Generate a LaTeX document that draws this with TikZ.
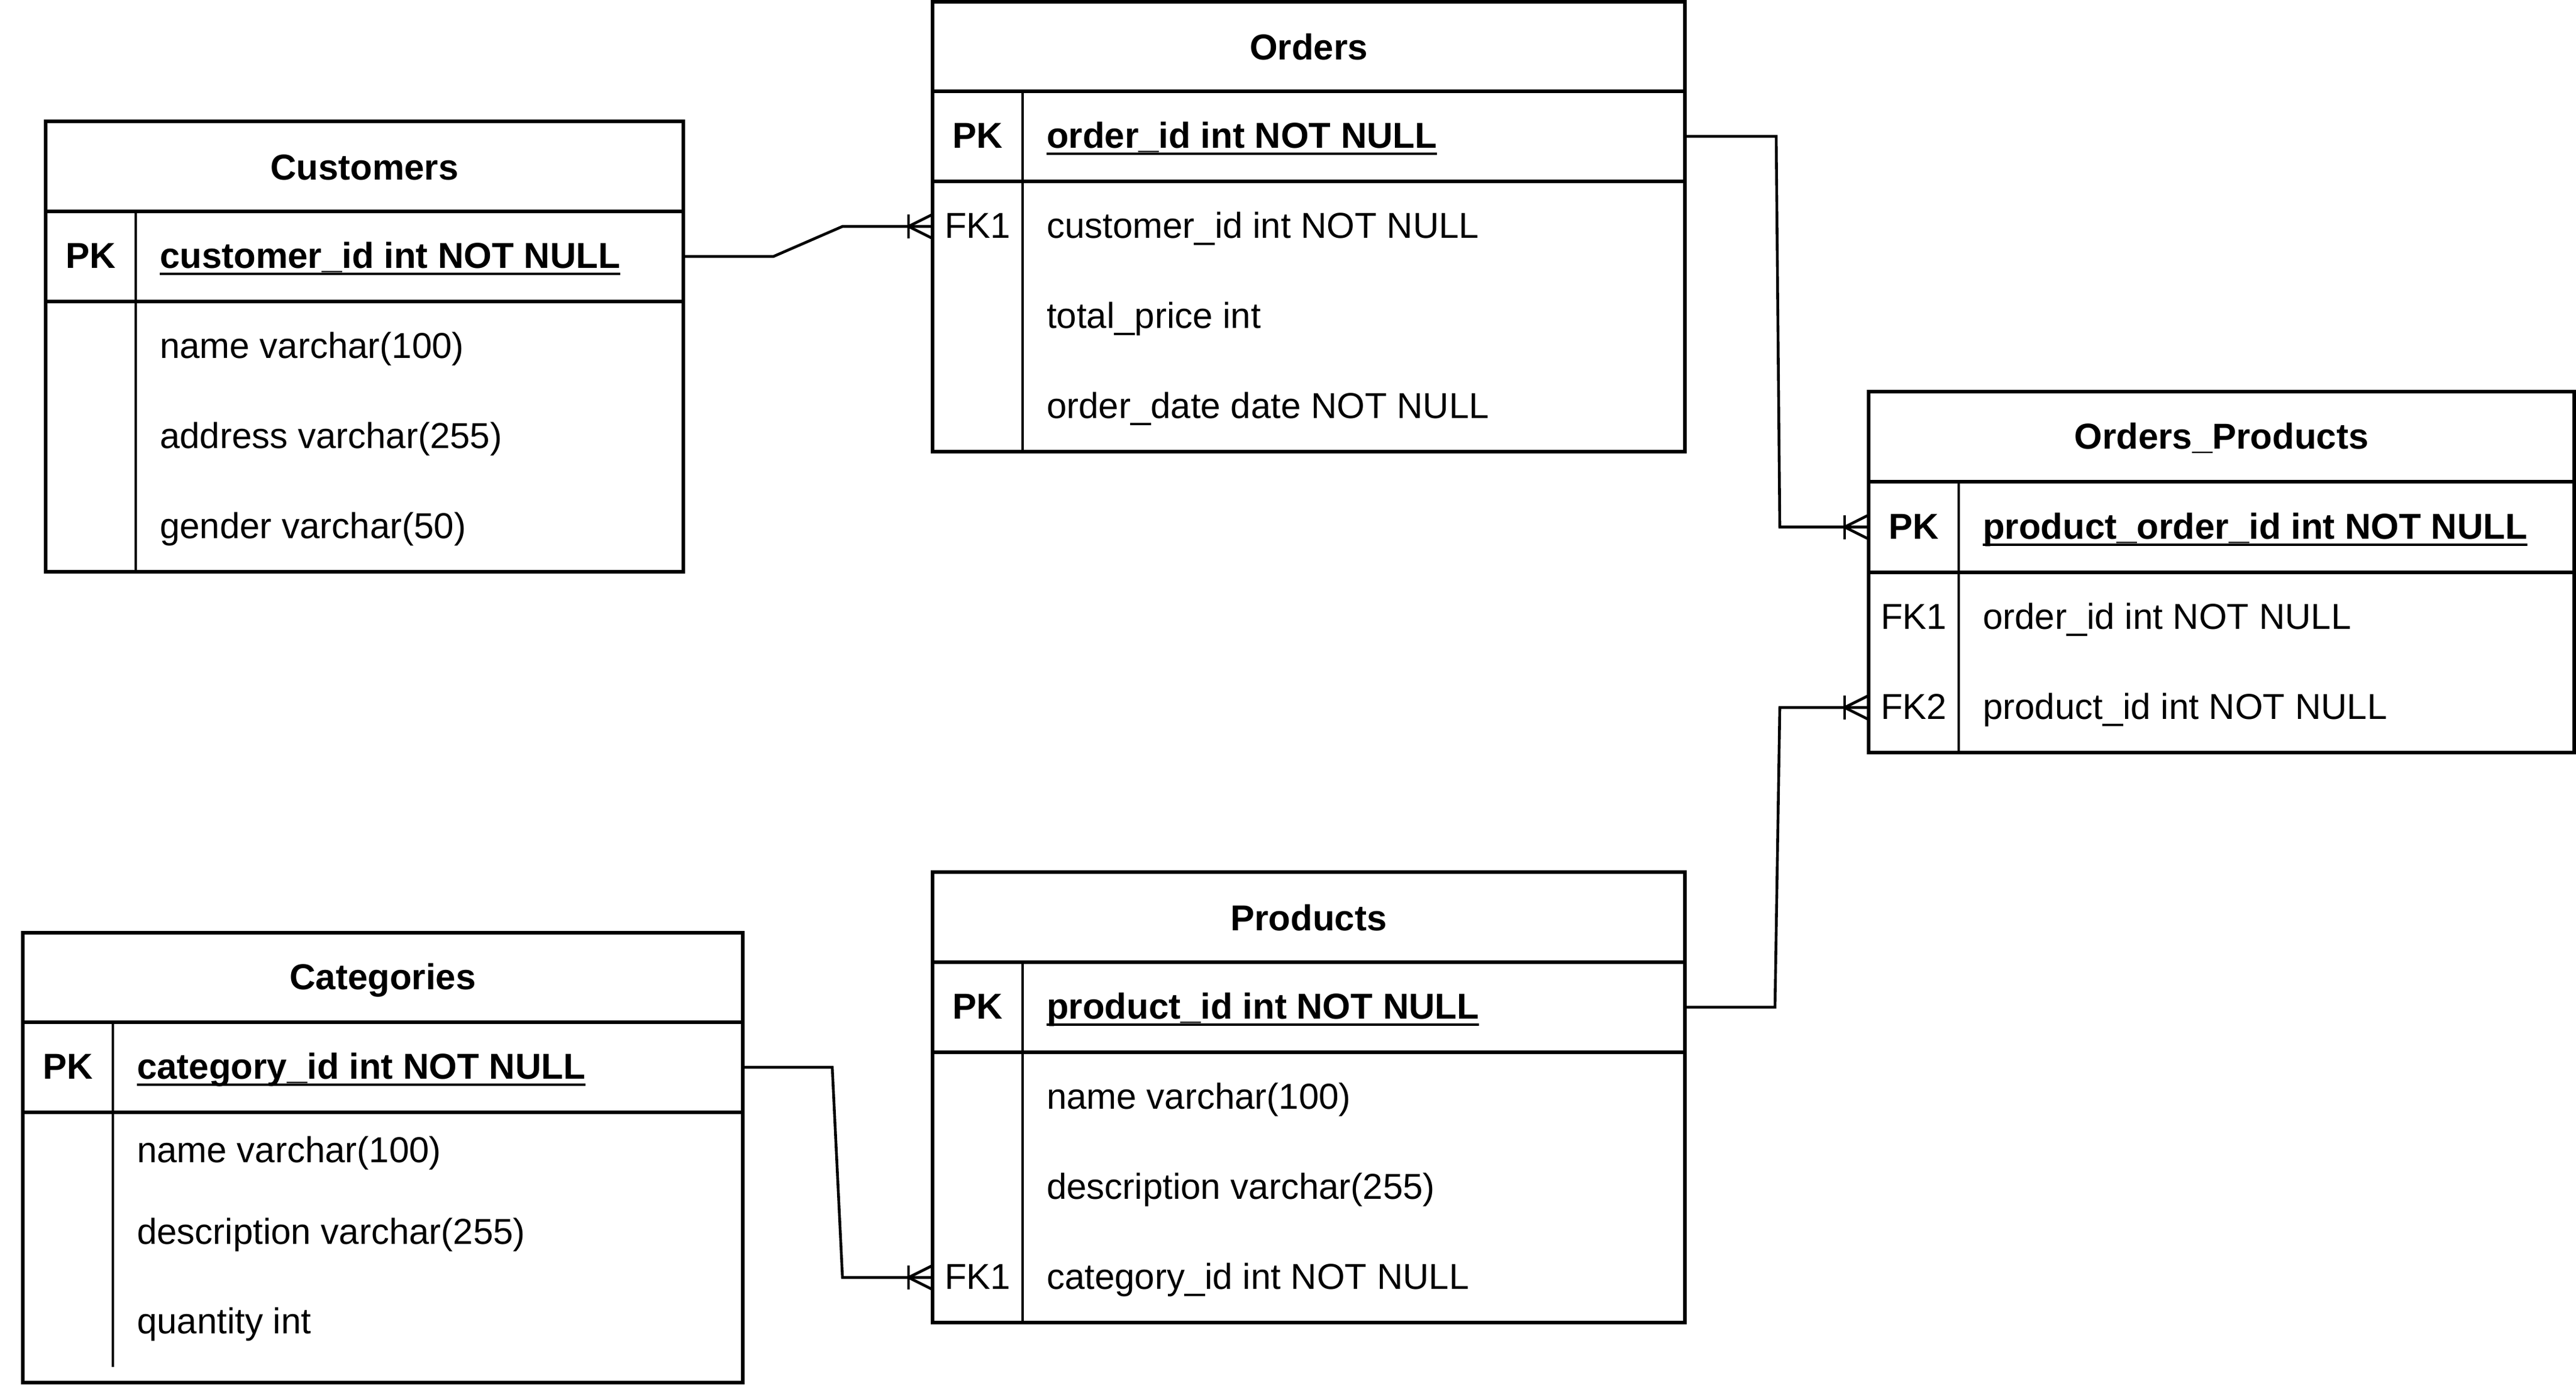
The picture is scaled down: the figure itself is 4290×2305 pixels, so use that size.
\documentclass[tikz,border=0pt]{standalone}
\usepackage{fontspec}
\setmainfont{Liberation Sans}
\usetikzlibrary{fit}
\newsavebox\pkulbox
\newcommand{\pkul}[1]{\sbox\pkulbox{#1}\rlap{\rule[-3pt]{\wd\pkulbox}{1.1pt}}\usebox\pkulbox}
\newcommand{\crowfoot}[1]{%
  \draw[conn] ([xshift=-10pt,yshift=5pt]#1) -- ([xshift=-10pt,yshift=-5pt]#1);
  \draw[conn] ([yshift=5pt]#1) -- ([xshift=-10pt]#1) -- ([yshift=-5pt]#1);}
\begin{document}
\begin{tikzpicture}[x=0.25pt,y=-0.25pt,
  rowbox/.style={inner sep=0pt, outer sep=0pt},
  tbl/.style={draw, line width=1.35pt, inner sep=0pt, outer sep=0pt},
  erRule/.style={line width=1.35pt},
  erDiv/.style={line width=1.1pt},
  conn/.style={line width=1.15pt, line join=miter},
  txt/.style={inner sep=0pt, outer sep=0pt, font=\fontsize{15pt}{18pt}\selectfont},
  erTitle/.style={txt, font=\fontsize{15pt}{18pt}\selectfont\bfseries, anchor=base},
  keytxt/.style={txt, anchor=base, yshift=0.75pt},
  pkkey/.style={keytxt, font=\fontsize{15pt}{18pt}\selectfont\bfseries},
  field/.style={txt, anchor=base west, yshift=0.75pt},
  pkfield/.style={field, font=\fontsize{15pt}{18pt}\selectfont\bfseries},
]
\useasboundingbox (0,0) rectangle (4290,2305);

% ---------- Customers ----------
\node[tbl, fit={(76,202) (1138,952)}] (cust) {};
\node[rowbox, fit={(76,202) (1138,352)}] (custH) {};
\node[rowbox, fit={(76,352) (1138,502)}] (custPK) {};
\draw[erRule] (custPK.north west) -- (custPK.north east);
\draw[erRule] (custPK.south west) -- (custPK.south east);
\draw[erDiv] (226,352) -- (226,952);
\node[erTitle] at ([yshift=-5.5pt]custH.center) {Customers};
\node[pkkey] at (151,449) {PK};
\node[pkfield] at (266,449) {\pkul{customer\_id int NOT NULL}};
\node[field] at (266,599) {name varchar(100)};
\node[field] at (266,749) {address varchar(255)};
\node[field] at (266,899) {gender varchar(50)};

% ---------- Orders ----------
\node[tbl, fit={(1553,3) (2806,752)}] (ord) {};
\node[rowbox, fit={(1553,3) (2806,152)}] (ordH) {};
\node[rowbox, fit={(1553,152) (2806,302)}] (ordPK) {};
\node[rowbox, fit={(1553,302) (2806,452)}] (ordFK1) {};
\draw[erRule] (ordPK.north west) -- (ordPK.north east);
\draw[erRule] (ordPK.south west) -- (ordPK.south east);
\draw[erDiv] (1703,152) -- (1703,752);
\node[erTitle] at ([yshift=-5.5pt]ordH.center) {Orders};
\node[pkkey] at (1628,249) {PK};
\node[pkfield] at (1743,249) {\pkul{order\_id int NOT NULL}};
\node[keytxt] at (1628,399) {FK1};
\node[field] at (1743,399) {customer\_id int NOT NULL};
\node[field] at (1743,549) {total\_price int};
\node[field] at (1743,699) {order\_date date NOT NULL};

% ---------- Orders_Products ----------
\node[tbl, fit={(3112,652) (4287,1253)}] (op) {};
\node[rowbox, fit={(3112,652) (4287,802)}] (opH) {};
\node[rowbox, fit={(3112,802) (4287,953)}] (opPK) {};
\node[rowbox, fit={(3112,953) (4287,1103)}] (opFK1) {};
\node[rowbox, fit={(3112,1103) (4287,1253)}] (opFK2) {};
\draw[erRule] (opPK.north west) -- (opPK.north east);
\draw[erRule] (opPK.south west) -- (opPK.south east);
\draw[erDiv] (3262,802) -- (3262,1253);
\node[erTitle] at ([yshift=-5pt]opH.center) {Orders\_Products};
\node[pkkey] at (3187,900) {PK};
\node[pkfield] at (3302,900) {\pkul{product\_order\_id int NOT NULL}};
\node[keytxt] at (3187,1050) {FK1};
\node[field] at (3302,1050) {order\_id int NOT NULL};
\node[keytxt] at (3187,1200) {FK2};
\node[field] at (3302,1200) {product\_id int NOT NULL};

% ---------- Categories ----------
\node[tbl, fit={(38,1553) (1237,2302)}] (cat) {};
\node[rowbox, fit={(38,1553) (1237,1702)}] (catH) {};
\node[rowbox, fit={(38,1702) (1237,1852)}] (catPK) {};
\draw[erRule] (catPK.north west) -- (catPK.north east);
\draw[erRule] (catPK.south west) -- (catPK.south east);
\draw[erDiv] (188,1702) -- (188,2276);
\node[erTitle] at ([yshift=-5pt]catH.center) {Categories};
\node[pkkey] at (113,1799) {PK};
\node[pkfield] at (228,1799) {\pkul{category\_id int NOT NULL}};
\node[field] at (228,1938) {name varchar(100)};
\node[field] at (228,2074) {description varchar(255)};
\node[field] at (228,2223) {quantity int};

% ---------- Products ----------
\node[tbl, fit={(1553,1452) (2806,2202)}] (prod) {};
\node[rowbox, fit={(1553,1452) (2806,1602)}] (prodH) {};
\node[rowbox, fit={(1553,1602) (2806,1752)}] (prodPK) {};
\node[rowbox, fit={(1553,2052) (2806,2202)}] (prodFK1) {};
\draw[erRule] (prodPK.north west) -- (prodPK.north east);
\draw[erRule] (prodPK.south west) -- (prodPK.south east);
\draw[erDiv] (1703,1602) -- (1703,2202);
\node[erTitle] at ([yshift=-5.5pt]prodH.center) {Products};
\node[pkkey] at (1628,1699) {PK};
\node[pkfield] at (1743,1699) {\pkul{product\_id int NOT NULL}};
\node[field] at (1743,1849) {name varchar(100)};
\node[field] at (1743,1999) {description varchar(255)};
\node[keytxt] at (1628,2149) {FK1};
\node[field] at (1743,2149) {category\_id int NOT NULL};

% ---------- Connectors ----------
\draw[conn] (custPK.east) -- ++(150,0) -- ++(115,-50) -- (ordFK1.west);
\crowfoot{ordFK1.west}
\draw[conn] (ordPK.east) -- ++(152,0) -- ([xshift=-37pt]opPK.west) -- (opPK.west);
\crowfoot{opPK.west}
\draw[conn] (prodPK.east) -- ++(150,0) -- ([xshift=-37pt]opFK2.west) -- (opFK2.west);
\crowfoot{opFK2.west}
\draw[conn] (catPK.east) -- ++(149,0) -- ([xshift=-37.5pt]prodFK1.west) -- (prodFK1.west);
\crowfoot{prodFK1.west}
\end{tikzpicture}
\end{document}
